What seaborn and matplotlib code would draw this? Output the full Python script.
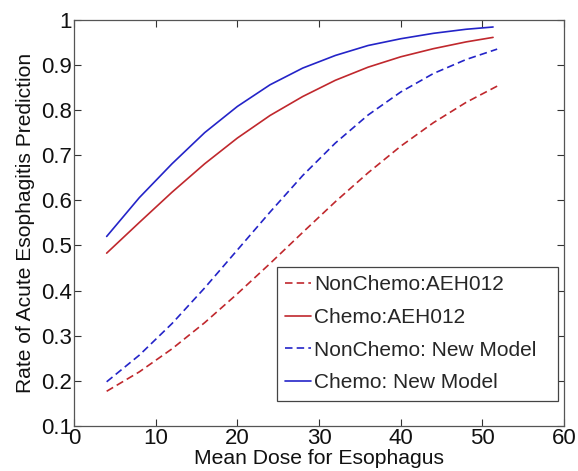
import matplotlib
matplotlib.use("Agg")
import matplotlib.pyplot as plt
import seaborn as sns
import pandas as pd
from matplotlib.lines import Line2D

# Data
dose_solid = [4, 8, 12, 16, 20, 24, 28, 32, 36, 40, 44, 48, 51.3]
dose_dashed = [4, 8, 12, 16, 20, 24, 28, 32, 36, 40, 44, 48, 51.8]

nonchemo_aeh012 = [0.177, 0.220, 0.271, 0.329, 0.393, 0.460, 0.529, 0.597, 0.661, 0.720, 0.772, 0.817, 0.853]
chemo_aeh012 = [0.483, 0.551, 0.618, 0.681, 0.738, 0.788, 0.830, 0.866, 0.895, 0.918, 0.936, 0.951, 0.961]
nonchemo_new = [0.198, 0.257, 0.327, 0.406, 0.490, 0.574, 0.655, 0.727, 0.789, 0.840, 0.881, 0.912, 0.935]
chemo_new = [0.520, 0.606, 0.681, 0.750, 0.808, 0.856, 0.893, 0.921, 0.943, 0.958, 0.970, 0.979, 0.984]

labels = ["NonChemo:AEH012", "Chemo:AEH012", "NonChemo: New Model", "Chemo: New Model"]
x_ticks = [0, 10, 20, 30, 40, 50, 60]
y_ticks = [0.1, 0.2, 0.3, 0.4, 0.5, 0.6, 0.7, 0.8, 0.9, 1.0]
y_tick_labels = ["0.1", "0.2", "0.3", "0.4", "0.5", "0.6", "0.7", "0.8", "0.9", "1"]

sns.set_theme(style="ticks")
plt.rcParams["font.family"] = ["Liberation Sans", "DejaVu Sans"]

RED = "#c0282d"
BLUE = "#2424c8"
DASH = (0, (4.5, 2.5))

fig = plt.figure(figsize=(5.78, 4.71), dpi=100)
ax = fig.add_axes([0.128, 0.0955, 0.848, 0.8625])

series = [
    (dose_dashed, nonchemo_aeh012, RED, DASH),
    (dose_solid, chemo_aeh012, RED, "-"),
    (dose_dashed, nonchemo_new, BLUE, DASH),
    (dose_solid, chemo_new, BLUE, "-"),
]
handles = []
for (xs, ys, c, ls), lab in zip(series, labels):
    df = pd.DataFrame({"dose": xs, "rate": ys})
    sns.lineplot(data=df, x="dose", y="rate", ax=ax, color=c, linewidth=1.2,
                 linestyle=ls, legend=False)
    handles.append(Line2D([], [], color=c, linewidth=1.2, linestyle=ls))

ax.set_xlim(0, 60)
ax.set_ylim(0.1, 1.0)
ax.set_xticks(x_ticks)
ax.set_xticklabels([str(t) for t in x_ticks])
ax.set_yticks(y_ticks)
ax.set_yticklabels(y_tick_labels)
ax.tick_params(direction="in", length=5, width=0.8, top=True, right=True,
               labelsize=16, colors="#333333", labelcolor="#111111", pad=1.5)
for s in ax.spines.values():
    s.set_color("#555555")
    s.set_linewidth(0.9)

ax.set_xlabel("Mean Dose for Esophagus", fontsize=15.2, color="#111111", labelpad=0)
ax.set_ylabel("Rate of Acute Esophagitis Prediction", fontsize=15.1, color="#111111", labelpad=4)

leg = ax.legend(handles, labels, loc="lower left", bbox_to_anchor=(0.414, 0.062, 0.574, 0.33),
                mode="expand", fontsize=15, handlelength=1.25, handletextpad=0.15,
                borderaxespad=0, fancybox=False, framealpha=1, edgecolor="#444444",
                borderpad=0.4, labelspacing=0.66)
leg.get_frame().set_linewidth(0.9)

fig.savefig("out.png", dpi=100)
